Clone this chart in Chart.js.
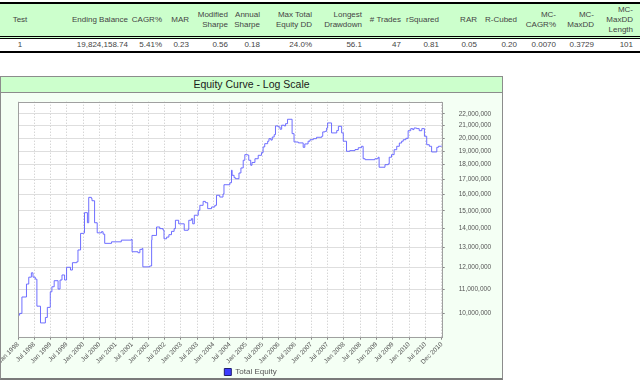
<!DOCTYPE html>
<html>
<head>
<meta charset="utf-8">
<script src="https://cdn.jsdelivr.net/npm/chart.js@4.4.1/dist/chart.umd.min.js"></script>
<style>
  html, body { margin: 0; padding: 0; background: #fff; width: 640px; height: 382px; overflow: hidden; }
  body { position: relative; font-family: "Liberation Sans", Arial, sans-serif; }
  #tbl { position: absolute; left: 0; top: 2px; width: 640px; }
  table { border-collapse: collapse; table-layout: fixed; width: 640px; font-size: 8px; color: #444; }
  th, td { padding: 0; font-weight: normal; text-align: right; overflow: visible; white-space: nowrap; }
  thead tr { border-top: 2px solid #000; border-bottom: 3px double #000; }
  th { background: #ccffcc; height: 32px; line-height: 10px; vertical-align: middle; }
  td { height: 12px; line-height: 12px; }
  tbody tr { border-bottom: 2px solid #000; }
  th.c, td.c { text-align: center; }
  #panel { position: absolute; left: 0; top: 76px; width: 501px; height: 301px; border: 1px solid #8c8c8c; border-bottom: 2px solid #7a7a7a; background: #f4fff4; overflow: hidden; }
  #ptitle { position: absolute; left: 0; top: 0; width: 501px; height: 15px; border-bottom: 1px solid #8c8c8c; background: #ccffcc; text-align: center; font-size: 10.5px; line-height: 15px; color: #1a1a1a; }
  #cv { position: absolute; left: 0; top: 16px; }
</style>
</head>
<body>
<div id="tbl">
<table>
<colgroup>
<col style="width:40px"><col style="width:88px"><col style="width:34px"><col style="width:27px"><col style="width:39px"><col style="width:32px"><col style="width:52px"><col style="width:50px"><col style="width:39px"><col style="width:38px"><col style="width:38px"><col style="width:40px"><col style="width:39px"><col style="width:38px"><col style="width:39px"><col style="width:7px">
</colgroup>
<thead><tr>
<th class="c">Test</th><th>Ending Balance</th><th>CAGR%</th><th>MAR</th><th>Modified<br>Sharpe</th><th>Annual<br>Sharpe</th><th>Max Total<br>Equity DD</th><th>Longest<br>Drawdown</th><th># Trades</th><th>rSquared</th><th>RAR</th><th>R-Cubed</th><th>MC-<br>CAGR%</th><th>MC-<br>MaxDD</th><th>MC-<br>MaxDD<br>Length</th><th></th>
</tr></thead>
<tbody><tr>
<td class="c">1</td><td>19,824,158.74</td><td>5.41%</td><td>0.23</td><td>0.56</td><td>0.18</td><td>24.0%</td><td>56.1</td><td>47</td><td>0.81</td><td>0.05</td><td>0.20</td><td>0.0070</td><td>0.3729</td><td>101</td><td></td>
</tr></tbody>
</table>
</div>

<div id="panel">
  <div id="ptitle">Equity Curve - Log Scale</div>
  <canvas id="cv" width="501" height="293"></canvas>
</div>

<script>
// ---- data ----
const years = [
  1998.00,1998.05,1998.12,1998.26,1998.33,1998.41,1998.46,1998.53,1998.58,1998.69,
  1998.84,1998.90,1998.99,1999.04,1999.11,1999.23,1999.29,1999.35,1999.43,1999.49,
  1999.61,1999.67,1999.80,1999.84,1999.92,2000.02,2000.04,2000.13,2000.17,2000.25,
  2000.27,2000.35,2000.43,2000.56,2000.61,2000.66,2000.87,2001.17,2001.48,2001.50,
  2001.68,2001.74,2001.81,2001.83,2002.04,2002.10,2002.11,2002.25,2002.35,2002.45,
  2002.48,2002.56,2002.63,2002.71,2002.79,2002.83,2002.93,2003.10,2003.22,2003.24,
  2003.32,2003.36,2003.41,2003.53,2003.58,2003.68,2003.75,2003.82,2003.94,2004.04,
  2004.09,2004.19,2004.29,2004.32,2004.50,2004.55,2004.57,2004.63,2004.67,2004.78,
  2004.84,2004.91,2004.96,2005.04,2005.08,2005.14,2005.18,2005.27,2005.37,2005.47,
  2005.52,2005.57,2005.66,2005.70,2005.76,2005.80,2005.86,2005.90,2005.98,2006.04,
  2006.09,2006.17,2006.21,2006.27,2006.41,2006.47,2006.60,2006.75,2006.80,2006.90,
  2006.96,2007.06,2007.16,2007.32,2007.35,2007.42,2007.47,2007.50,2007.62,2007.78,
  2007.83,2007.93,2007.98,2008.08,2008.18,2008.34,2008.44,2008.54,2008.59,2008.65,
  2008.95,2009.05,2009.08,2009.26,2009.36,2009.39,2009.46,2009.54,2009.62,2009.70,
  2009.77,2009.82,2009.90,2009.97,2010.05,2010.11,2010.15,2010.23,2010.31,2010.39,
  2010.47,2010.54,2010.62,2010.69,2010.85,2010.90,2011.00
];
// Total equity, millions of dollars
const equityMillions = [
  9.93,10.00,10.67,11.23,11.54,11.74,11.54,11.45,10.29,9.63,
  9.84,10.24,10.89,11.11,11.38,11.01,11.41,11.64,11.41,12.00,
  11.87,12.22,12.26,12.85,13.72,13.75,14.89,14.31,15.82,15.76,
  15.61,14.31,13.75,13.81,13.68,13.19,13.27,13.36,13.40,12.76,
  12.71,12.88,12.93,12.02,12.06,13.36,13.61,14.07,13.98,13.90,
  13.43,13.52,13.65,13.83,13.98,14.45,14.25,13.89,13.94,14.45,
  14.54,14.25,14.74,15.03,15.33,15.57,15.49,15.13,15.23,15.33,
  15.95,15.84,16.03,16.63,16.76,17.61,17.26,17.10,17.03,17.42,
  17.77,18.32,18.73,18.70,18.32,17.96,18.16,18.43,18.68,18.88,
  19.31,19.56,19.75,19.95,19.84,20.08,20.27,20.98,20.90,20.71,
  21.04,20.98,21.17,21.54,20.35,19.69,19.62,19.28,19.54,19.75,
  19.87,19.95,20.06,20.14,20.49,20.54,20.81,21.23,20.41,20.60,
  20.95,20.41,19.75,18.98,19.03,19.11,19.25,19.36,18.43,18.36,
  18.43,18.54,17.82,18.00,18.06,18.54,18.73,19.10,19.36,19.61,
  19.75,19.87,19.98,20.59,20.76,20.68,20.81,20.76,20.59,20.76,
  20.14,19.48,19.36,18.93,19.28,19.36,19.41
];
const seriesName = 'Total Equity';

const xTickValues = [
  1998.0,1998.5,1999.0,1999.5,2000.0,2000.5,2001.0,2001.5,2002.0,2002.5,
  2003.0,2003.5,2004.0,2004.5,2005.0,2005.5,2006.0,2006.5,2007.0,2007.5,
  2008.0,2008.5,2009.0,2009.5,2010.0,2010.5,2011.0
];
const xTickLabels = [
  'Jan 1998','Jul 1998','Jan 1999','Jul 1999','Jan 2000','Jul 2000','Jan 2001','Jul 2001','Jan 2002','Jul 2002',
  'Jan 2003','Jul 2003','Jan 2004','Jul 2004','Jan 2005','Jul 2005','Jan 2006','Jul 2006','Jan 2007','Jul 2007',
  'Jan 2008','Jul 2008','Jan 2009','Jul 2009','Jan 2010','Jul 2010','Dec 2010'
];
const yTickValues = [10000000,11000000,12000000,13000000,14000000,15000000,16000000,17000000,18000000,19000000,20000000,21000000,22000000];
const yMin = 9120000, yMax = 23090000;

// ---- chart ----
const points = years.map((x, i) => ({ x: x, y: equityMillions[i] * 1e6 }));

const plotFrame = {
  id: 'plotFrame',
  afterLayout(chart) {
    // keep the legend centred under the plot like the reference
    if (chart.legend) { chart.legend.right -= 19; chart.legend.width -= 19; }
  },
  beforeDraw(chart) {
    const { ctx, chartArea: a } = chart;
    ctx.save();
    ctx.fillStyle = '#ffffff';
    ctx.fillRect(a.left, a.top, a.right - a.left, a.bottom - a.top);
    ctx.restore();
  },
  afterDraw(chart) {
    const { ctx, chartArea: a } = chart;
    ctx.save();
    ctx.strokeStyle = '#a0a0a0';
    ctx.lineWidth = 1;
    ctx.strokeRect(Math.round(a.left) + 0.5, Math.round(a.top) + 0.5, Math.round(a.right - a.left), Math.round(a.bottom - a.top));
    ctx.restore();
  }
};

const tickFont = { family: '"Liberation Sans", Arial, sans-serif', size: 6.5 };

new Chart(document.getElementById('cv'), {
  type: 'line',
  data: {
    datasets: [{
      label: seriesName,
      data: points,
      stepped: true,
      borderColor: 'rgba(95,95,255,0.9)',
      backgroundColor: '#3c3cff',
      borderWidth: 1,
      pointRadius: 0,
      fill: false
    }]
  },
  options: {
    responsive: false,
    animation: false,
    devicePixelRatio: 1,
    layout: { padding: { left: 17, top: 8.7, right: 0, bottom: 0 } },
    plugins: {
      tooltip: { enabled: false },
      legend: {
        position: 'bottom',
        labels: {
          boxWidth: 7, boxHeight: 7, padding: 4,
          color: '#555',
          font: { family: '"Liberation Sans", Arial, sans-serif', size: 8 },
          generateLabels(chart) {
            const items = Chart.defaults.plugins.legend.labels.generateLabels(chart);
            items.forEach(it => { it.fillStyle = '#3c3cff'; it.strokeStyle = '#202070'; it.lineWidth = 1; it.lineDash = []; });
            return items;
          }
        }
      }
    },
    scales: {
      x: {
        type: 'linear',
        position: 'bottom',
        min: xTickValues[0],
        max: xTickValues[xTickValues.length - 1],
        afterBuildTicks(s) { s.ticks = xTickValues.map(v => ({ value: v })); },
        afterFit(s) { s.height = 27.3; s.paddingLeft = 0; s.paddingRight = 0; },
        ticks: {
          autoSkip: false, minRotation: 45, maxRotation: 45,
          padding: 1, color: '#555', font: tickFont,
          callback(v) { const i = xTickValues.findIndex(t => Math.abs(t - v) < 1e-6); return i >= 0 ? xTickLabels[i] : ''; }
        },
        grid: { color: '#c4c4c4', lineWidth: 1, tickLength: 3, tickColor: '#888', tickBorderDash: [] },
        border: { display: false, dash: [1, 2] }
      },
      y: {
        type: 'logarithmic',
        position: 'right',
        min: yMin,
        max: yMax,
        afterBuildTicks(s) { s.ticks = yTickValues.map(v => ({ value: v })); },
        afterFit(s) { s.width = 60.3; s.paddingTop = 0; s.paddingBottom = 0; },
        ticks: {
          autoSkip: false, padding: 14, color: '#555', font: tickFont,
          callback(v) { return Number(v).toLocaleString('en-US'); }
        },
        grid: { color: '#dedede', lineWidth: 1, tickLength: 3, tickColor: '#888' },
        border: { display: false }
      }
    }
  },
  plugins: [plotFrame]
});
</script>
</body>
</html>
